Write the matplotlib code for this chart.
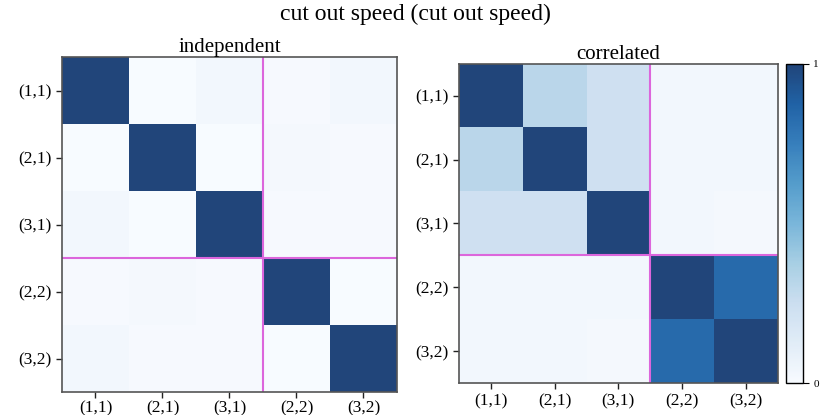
import numpy as np
import matplotlib
matplotlib.use("Agg")
import matplotlib.pyplot as plt

labels = ["(1,1)", "(2,1)", "(3,1)", "(2,2)", "(3,2)"]

independent = [
    [1.00, 0.00, 0.03, 0.01, 0.03],
    [0.00, 1.00, 0.00, 0.02, 0.01],
    [0.03, 0.00, 1.00, 0.01, 0.01],
    [0.01, 0.02, 0.01, 1.00, 0.00],
    [0.03, 0.01, 0.01, 0.00, 1.00],
]

correlated = [
    [1.00, 0.31, 0.23, 0.03, 0.03],
    [0.31, 1.00, 0.23, 0.03, 0.03],
    [0.23, 0.23, 1.00, 0.03, 0.02],
    [0.03, 0.03, 0.03, 1.00, 0.84],
    [0.03, 0.03, 0.02, 0.84, 1.00],
]

block_split = 3
title = "cut out speed (cut out speed)"

plt.rcParams['font.family'] = ['Liberation Serif', 'DejaVu Serif']

fig = plt.figure(figsize=(8.3, 4.15), dpi=100)
ax1 = fig.add_axes([0.0747, 0.0554, 0.4036, 0.807])
ax2 = fig.add_axes([0.553, 0.0771, 0.384, 0.769])
cax = fig.add_axes([0.947, 0.0771, 0.0205, 0.769])

line_color = '#dc66dc'
for ax, data, name in [(ax1, independent, "independent"), (ax2, correlated, "correlated")]:
    arr = np.array(data)
    im = ax.imshow(arr, cmap='Blues', vmin=0, vmax=1, alpha=0.9, aspect='auto',
                   interpolation='nearest')
    n = len(labels)
    ax.axhline(block_split - 0.5, color=line_color, lw=1.5)
    ax.axvline(block_split - 0.5, color=line_color, lw=1.5)
    ax.set_xticks(range(n))
    ax.set_xticklabels(labels, fontsize=12.5)
    ax.set_yticks(range(n))
    ax.set_yticklabels(labels, fontsize=12.5)
    ax.tick_params(length=4, width=1, colors='#222222', labelcolor='black')
    for s in ax.spines.values():
        s.set_color('#555555')
        s.set_linewidth(1.2)
    ax.set_title(name, fontsize=15, pad=3)

ax1.tick_params(axis='x', pad=2)

cb = fig.colorbar(im, cax=cax, ticks=[0, 1])
cb.ax.tick_params(labelsize=8, length=4)
cb.outline.set_linewidth(1)
cb.outline.set_edgecolor('black')

fig.suptitle(title, fontsize=17, y=0.99)
fig.savefig("out.png", dpi=100)
